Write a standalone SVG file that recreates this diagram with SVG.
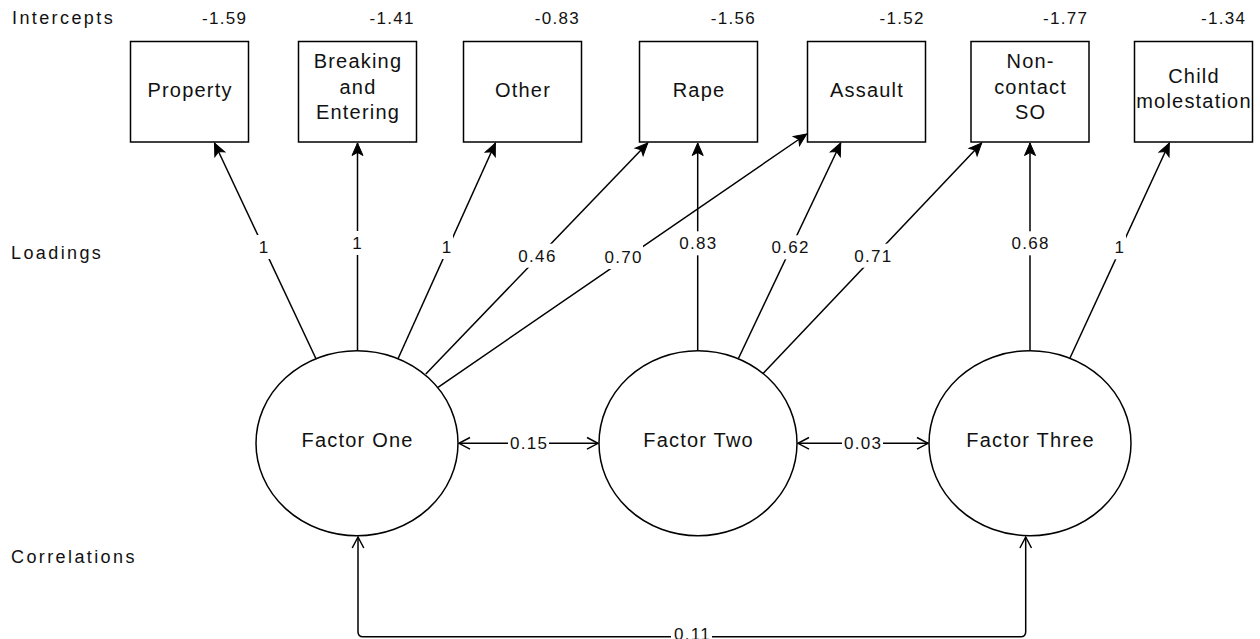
<svg xmlns="http://www.w3.org/2000/svg" width="1260" height="639" viewBox="0 0 1260 639">
<style>
.box{fill:#fff;stroke:#000;stroke-width:1.5}
.lat{fill:#fff;stroke:#000;stroke-width:1.5}
.lbl{font-family:"Liberation Sans",Arial,sans-serif;font-size:20px;letter-spacing:1.2px;fill:#111;text-anchor:middle}
.side{font-family:"Liberation Sans",Arial,sans-serif;font-size:18px;letter-spacing:2.4px;fill:#111}
.num{font-family:"Liberation Sans",Arial,sans-serif;font-size:17px;letter-spacing:1.3px;fill:#111}
.ic{text-anchor:end}
.mid{text-anchor:middle}
.ld{fill:none;stroke:#000;stroke-width:1.5;marker-end:url(#fill)}
.cr{fill:none;stroke:#000;stroke-width:1.5;marker-start:url(#open);marker-end:url(#open)}
.bg{fill:#fff}
</style>
<defs>
<marker id="fill" markerUnits="userSpaceOnUse" viewBox="-14 -7 16 14" refX="0" refY="0" markerWidth="16" markerHeight="14" orient="auto">
<path d="M0,0 L-12.5,-5.5 L-9.5,0 L-12.5,5.5 Z" fill="#000" stroke="#000" stroke-width="1"/>
</marker>
<marker id="open" markerUnits="userSpaceOnUse" viewBox="-14 -8 16 16" refX="0" refY="0" markerWidth="16" markerHeight="16" orient="auto-start-reverse">
<path d="M-11,-5.8 L0,0 L-11,5.8" fill="none" stroke="#000" stroke-width="1.5"/>
</marker>
</defs>
<rect width="1260" height="639" fill="#fff"/>

<g id="side-labels">
<text class="side" x="12" y="24">Intercepts</text>
<text class="side" x="11" y="259">Loadings</text>
<text class="side" x="11" y="563">Correlations</text>
</g>

<g id="intercepts">
<text class="num ic" x="247.3" y="24">-1.59</text>
<text class="num ic" x="414.8" y="24">-1.41</text>
<text class="num ic" x="580.1" y="24">-0.83</text>
<text class="num ic" x="756" y="24">-1.56</text>
<text class="num ic" x="924.8" y="24">-1.52</text>
<text class="num ic" x="1088.3" y="24">-1.77</text>
<text class="num ic" x="1246.3" y="24">-1.34</text>
</g>

<g id="connectors">
<line class="ld" x1="316" y1="358.7" x2="214.5" y2="143"/>
<line class="ld" x1="357.5" y1="350.7" x2="357.5" y2="143"/>
<line class="ld" x1="398" y1="358.7" x2="495.4" y2="143"/>
<line class="ld" x1="425.8" y1="374" x2="647.8" y2="143"/>
<line class="ld" x1="438" y1="387.3" x2="806.7" y2="134"/>
<line class="ld" x1="697.7" y1="350.7" x2="697.7" y2="143"/>
<line class="ld" x1="738.3" y1="358.7" x2="840.7" y2="143"/>
<line class="ld" x1="763.3" y1="373.3" x2="981.7" y2="143"/>
<line class="ld" x1="1030" y1="350.7" x2="1030" y2="143"/>
<line class="ld" x1="1070" y1="358" x2="1169.3" y2="143"/>
<line class="cr" x1="459" y1="443.3" x2="598" y2="443.3"/>
<line class="cr" x1="798" y1="443.3" x2="928" y2="443.3"/>
<path class="cr" d="M358,537 V631.7 Q358,636.7 363,636.7 H1020.7 Q1025.7,636.7 1025.7,631.7 V537"/>

<rect class="bg" x="257" y="235" width="13" height="24"/>
<text class="num mid" x="264.2" y="253.3">1</text>
<rect class="bg" x="350.5" y="231" width="13" height="24"/>
<text class="num mid" x="357.7" y="249.3">1</text>
<rect class="bg" x="440" y="235" width="13" height="24"/>
<text class="num mid" x="447.2" y="253.3">1</text>
<rect class="bg" x="517" y="243.7" width="40" height="24"/>
<text class="num mid" x="537.5" y="261.7">0.46</text>
<rect class="bg" x="603" y="245" width="40" height="24"/>
<text class="num mid" x="623.6" y="263">0.70</text>
<rect class="bg" x="677.7" y="231.3" width="40" height="24"/>
<text class="num mid" x="698.4" y="249.3">0.83</text>
<rect class="bg" x="770" y="235.3" width="40" height="24"/>
<text class="num mid" x="790.7" y="253.3">0.62</text>
<rect class="bg" x="853" y="243.7" width="40" height="24"/>
<text class="num mid" x="873.4" y="261.7">0.71</text>
<rect class="bg" x="1010" y="231.3" width="40" height="24"/>
<text class="num mid" x="1030.7" y="249.3">0.68</text>
<rect class="bg" x="1113" y="235.3" width="13" height="24"/>
<text class="num mid" x="1120" y="253.3">1</text>
<rect class="bg" x="508" y="433" width="41" height="20"/>
<text class="num mid" x="529.2" y="449.3">0.15</text>
<rect class="bg" x="842" y="433" width="41" height="20"/>
<text class="num mid" x="863.2" y="449.3">0.03</text>
<rect class="bg" x="671" y="626" width="41" height="13"/>
<text class="num mid" x="692.4" y="640">0.11</text>
</g>

<g id="property"><rect class="box" x="130.5" y="41.5" width="118" height="100.5"/><text class="lbl" x="190" y="97">Property</text></g>
<g id="breaking"><rect class="box" x="298.5" y="41.5" width="118" height="100.5"/><text class="lbl" x="358" y="67.7">Breaking</text><text class="lbl" x="358" y="93.5">and</text><text class="lbl" x="358" y="119.3">Entering</text></g>
<g id="other"><rect class="box" x="463.5" y="41.5" width="118" height="100.5"/><text class="lbl" x="523" y="97">Other</text></g>
<g id="rape"><rect class="box" x="639.5" y="41.5" width="118" height="100.5"/><text class="lbl" x="699" y="97">Rape</text></g>
<g id="assault"><rect class="box" x="807.5" y="41.5" width="118" height="100.5"/><text class="lbl" x="867" y="97">Assault</text></g>
<g id="noncontact"><rect class="box" x="971" y="41.5" width="118" height="100.5"/><text class="lbl" x="1030.6" y="67.7">Non-</text><text class="lbl" x="1030.6" y="93.5">contact</text><text class="lbl" x="1030.6" y="119.3">SO</text></g>
<g id="child"><rect class="box" x="1134.5" y="41.5" width="118" height="100.5"/><text class="lbl" x="1194" y="83">Child</text><text class="lbl" x="1194" y="108">molestation</text></g>

<g id="factor-one"><ellipse class="lat" cx="357" cy="443.2" rx="101" ry="92.5"/><text class="lbl" x="357.6" y="447.3">Factor One</text></g>
<g id="factor-two"><ellipse class="lat" cx="698" cy="443.2" rx="99" ry="92.5"/><text class="lbl" x="698.6" y="447.3">Factor Two</text></g>
<g id="factor-three"><ellipse class="lat" cx="1030" cy="443.2" rx="101" ry="92.5"/><text class="lbl" x="1030.6" y="447.3">Factor Three</text></g>
</svg>
